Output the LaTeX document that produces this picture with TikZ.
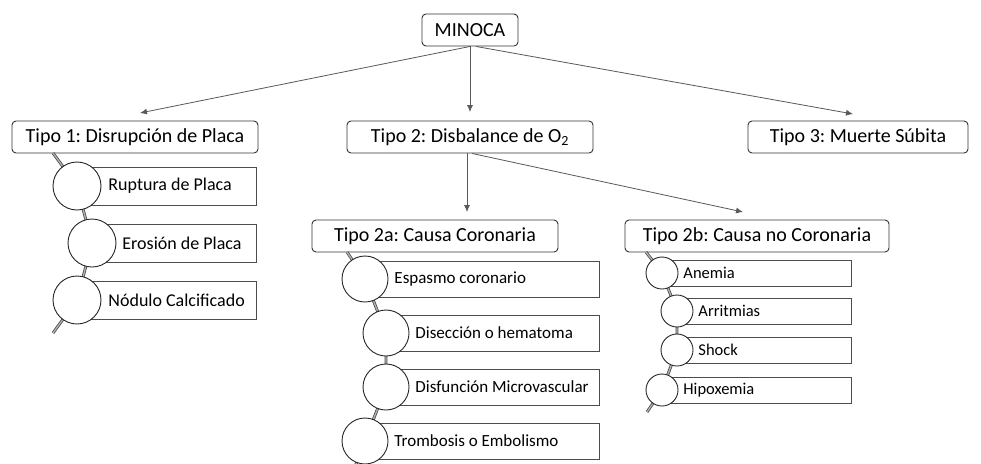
\documentclass[tikz,border=0pt]{standalone}
\usepackage{fontspec}
\setmainfont{Carlito}
\usetikzlibrary{arrows.meta}
\frenchspacing
\begin{document}
\begin{tikzpicture}[x=1pt,y=-1pt,
 topbox/.style={draw=black!80, line width=0.9pt, rounded corners=4pt, fill=white, minimum height=32pt, inner sep=0pt, font=\frenchspacing\fontsize{20}{24}\selectfont},
 arr/.style={draw=black!65, line width=0.8pt, -{Latex[length=7pt,width=6pt]}},
 spine/.style={draw=black!70, double=black!30, double distance=1.3pt, line width=0.8pt},
 circ/.style={circle, draw=black!85, line width=0.9pt, fill=white, inner sep=0pt},
 item/.style={draw=black!70, line width=0.9pt, fill=white, anchor=west, inner sep=0pt},
 itA/.style={item, minimum height=38pt, font=\frenchspacing\fontsize{18}{22}\selectfont},
 itB/.style={item, minimum height=36pt, font=\frenchspacing\fontsize{17}{21}\selectfont},
 itC/.style={item, minimum height=26pt, font=\frenchspacing\fontsize{16.5}{20}\selectfont},
]
\useasboundingbox (0,0) rectangle (981,463);
\fill[white] (0,0) rectangle (981,463);

% top level
\node[topbox, minimum width=96pt] (mino) at (470,30) {MINOCA};
\node[topbox, minimum width=246pt] (t1) at (135,137) {Tipo 1: Disrupción de Placa};
\node[topbox, minimum width=246pt] (t2) at (470,137) {Tipo 2: Disbalance de O\textsubscript{2}};
\node[topbox, minimum width=220pt] (t3) at (858,137) {Tipo 3: Muerte Súbita};
\node[topbox, minimum width=246pt] (t2a) at (435,236) {Tipo 2a: Causa Coronaria};
\node[topbox, minimum width=264pt] (t2b) at (757,236) {Tipo 2b: Causa no Coronaria};

% arrows
\coordinate (e1) at (140,113);
\coordinate (e2) at (470,112);
\coordinate (e3) at (853,114);
\coordinate (e4) at (467,212);
\coordinate (e5) at (743,212);
\draw[arr] (mino.south) -- (e1);
\draw[arr] (mino.south) -- (e2);
\draw[arr] ([xshift=6pt]mino.south) -- (e3);
\draw[arr] ([xshift=-3pt]t2.south) -- (e4);
\draw[arr] ([xshift=2pt]t2.south) -- (e5);

% Tipo 1 children
\coordinate (p11) at (77,186);
\coordinate (p12) at (92,243);
\coordinate (p13) at (77,300);
\coordinate (s1a) at (53,153);
\coordinate (s1b) at (53,333);
\draw[spine] (s1a) -- (p11) -- (p12) -- (p13) -- (s1b);
\node[itA] (r11) at (p11) {\makebox[179pt][l]{\hspace*{31pt}Ruptura de Placa}};
\node[circ, minimum size=48pt] (c11) at (p11) {};
\node[itA] (r12) at (p12) {\makebox[164pt][l]{\hspace*{30pt}Erosión de Placa}};
\node[circ, minimum size=48pt] (c12) at (p12) {};
\node[itA] (r13) at (p13) {\makebox[179pt][l]{\hspace*{31pt}Nódulo Calcificado}};
\node[circ, minimum size=48pt] (c13) at (p13) {};

% Tipo 2a children
\coordinate (p21) at (365,279);
\coordinate (p22) at (386,333);
\coordinate (p23) at (386,387);
\coordinate (p24) at (365,441);
\coordinate (s2a) at (347,252);
\coordinate (s2b) at (351,477);
\draw[spine] (s2a) -- (p21) -- (p22) -- (p23) -- (p24) -- (s2b);
\node[itB] (r21) at (p21) {\makebox[234pt][l]{\hspace*{29pt}Espasmo coronario}};
\node[circ, minimum size=46pt] (c21) at (p21) {};
\node[itB] (r22) at (p22) {\makebox[213pt][l]{\hspace*{29pt}Disección o hematoma}};
\node[circ, minimum size=46pt] (c22) at (p22) {};
\node[itB] (r23) at (p23) {\makebox[213pt][l]{\hspace*{29pt}Disfunción Microvascular}};
\node[circ, minimum size=46pt] (c23) at (p23) {};
\node[itB] (r24) at (p24) {\makebox[234pt][l]{\hspace*{29pt}Trombosis o Embolismo}};
\node[circ, minimum size=46pt] (c24) at (p24) {};

% Tipo 2b children
\coordinate (p31) at (662,273);
\coordinate (p32) at (677,311);
\coordinate (p33) at (677,350);
\coordinate (p34) at (662,390);
\coordinate (s3a) at (646,252);
\coordinate (s3b) at (647,412);
\draw[spine] (s3a) -- (p31) -- (p32) -- (p33) -- (p34) -- (s3b);
\node[itC] (r31) at (p31) {\makebox[189pt][l]{\hspace*{21pt}Anemia}};
\node[circ, minimum size=32pt] (c31) at (p31) {};
\node[itC] (r32) at (p32) {\makebox[174pt][l]{\hspace*{21pt}Arritmias}};
\node[circ, minimum size=32pt] (c32) at (p32) {};
\node[itC] (r33) at (p33) {\makebox[174pt][l]{\hspace*{21pt}Shock}};
\node[circ, minimum size=32pt] (c33) at (p33) {};
\node[itC] (r34) at (p34) {\makebox[189pt][l]{\hspace*{21pt}Hipoxemia}};
\node[circ, minimum size=32pt] (c34) at (p34) {};
\end{tikzpicture}
\end{document}
